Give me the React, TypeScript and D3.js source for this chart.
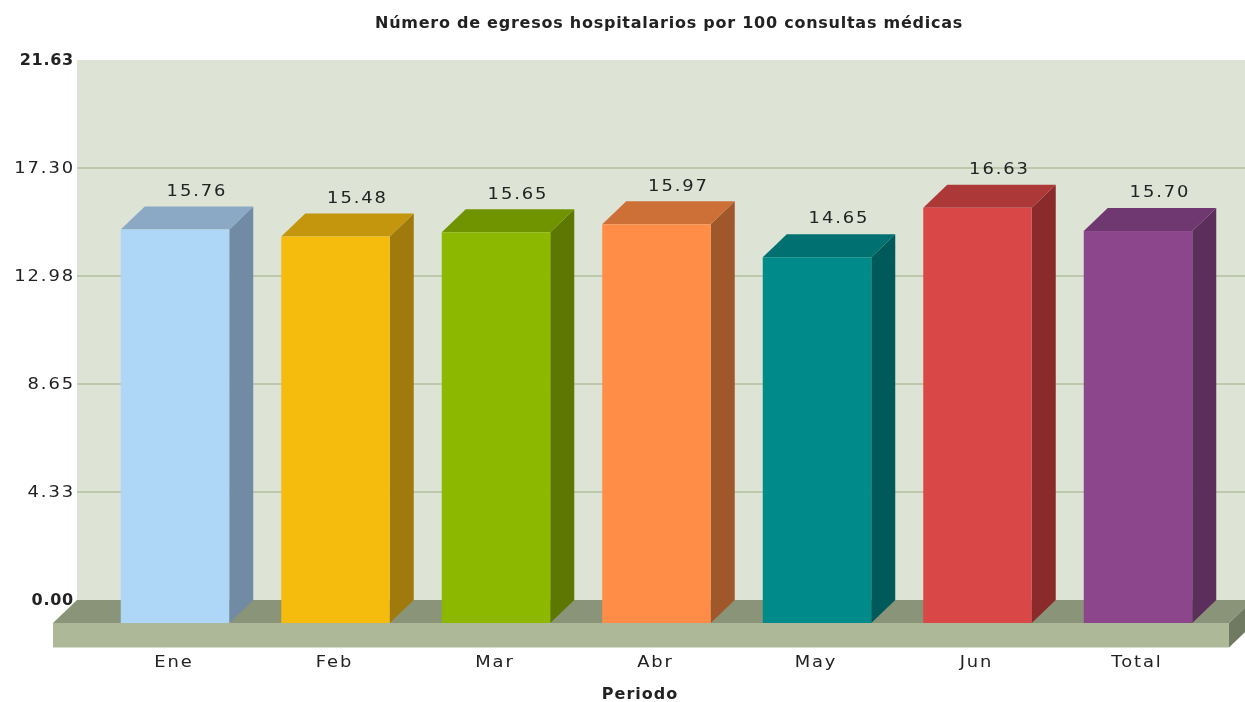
import React from "react";
import * as d3 from "d3";

const categories = ["Ene", "Feb", "Mar", "Abr", "May", "Jun", "Total"];
const values = [15.76, 15.48, 15.65, 15.97, 14.65, 16.63, 15.7];
const yTicks = [0, 4.33, 8.65, 12.98, 17.3, 21.63];
const frontColors = ["#aed6f7", "#f6bc0e", "#8cb900", "#ff8d47", "#008b8b", "#d94646", "#8c468c"];
const topColors = ["#8ba9c4", "#c4960a", "#709400", "#cc7038", "#006f6f", "#ad3838", "#703870"];
const sideColors = ["#6f8ba3", "#a07a09", "#5b7800", "#a0582c", "#005a5a", "#8a2c2c", "#5b2d5b"];

const W = 1245, H = 702;
const DX = 24, DY = 23;
const backLeft = 77, backTop = 60, backBottom = 600;
const floorLeft = 53, floorRight = 1229, floorFront = 623, floorThick = 24.5;
const font = "'DejaVu Sans', Verdana, sans-serif";
const textColor = "#222";

// Regular labels in the reference are slightly stretched horizontally.
function Wide({ x, y, anchor = "middle", children }: { x: number; y: number; anchor?: string; children: React.ReactNode }) {
  return (
    <text transform={`translate(${x},${y}) scale(1.12,1)`} textAnchor={anchor} dominantBaseline="middle" letterSpacing={1.7}>
      {children}
    </text>
  );
}

export default function App() {
  const y = d3.scaleLinear().domain([0, 21.63]).range([backBottom, backTop]);
  const x = d3.scaleBand<string>().domain(categories).range([94.75, 1218.25]).paddingInner(0.324).paddingOuter(0.162);
  const bw = x.bandwidth();
  return (
    <svg width={W} height={H} viewBox={`0 0 ${W} ${H}`} style={{ position: "absolute", left: 0, top: 0, display: "block", background: "#fff" }}>
      <defs>
        <filter id="soft" x="-5%" y="-5%" width="110%" height="110%">
          <feGaussianBlur stdDeviation="0.35" />
        </filter>
      </defs>
      <g filter="url(#soft)">
        <rect x={backLeft} y={backTop} width={W - backLeft} height={backBottom - backTop} fill="#dde3d5" />
        {yTicks.slice(1, -1).map((t) => (
          <line key={t} x1={backLeft} x2={W} y1={y(t)} y2={y(t)} stroke="#b3bf9f" strokeWidth={1.5} />
        ))}
        <polygon points={`${floorLeft},${floorFront} ${floorLeft + DX},${backBottom} ${floorRight + DX},${backBottom} ${floorRight},${floorFront}`} fill="#8a9478" />
        <rect x={floorLeft} y={floorFront} width={floorRight - floorLeft} height={floorThick} fill="#adb899" />
        <polygon points={`${floorRight},${floorFront} ${floorRight + DX},${backBottom} ${floorRight + DX},${backBottom + floorThick} ${floorRight},${floorFront + floorThick}`} fill="#6f7a62" />
        {categories.map((c, i) => {
          const x0 = x(c)!;
          const x1 = x0 + bw;
          const top = y(values[i]) + DY;
          return (
            <g key={c}>
              <polygon points={`${x1},${top} ${x1 + DX},${top - DY} ${x1 + DX},${floorFront - DY} ${x1},${floorFront}`} fill={sideColors[i]} />
              <polygon points={`${x0},${top} ${x0 + DX},${top - DY} ${x1 + DX},${top - DY} ${x1},${top}`} fill={topColors[i]} />
              <rect x={x0} y={top} width={bw} height={floorFront - top} fill={frontColors[i]} />
            </g>
          );
        })}
        <g fontFamily={font} fill={textColor} fontSize={16}>
          <text x={669} y={23} fontWeight="bold" letterSpacing={0.75} textAnchor="middle" dominantBaseline="middle">
            Número de egresos hospitalarios por 100 consultas médicas
          </text>
          {yTicks.map((t, i) => {
            const strong = i === 0 || i === yTicks.length - 1;
            return strong ? (
              <text key={t} x={74} y={y(t) + 0.5} fontWeight="bold" letterSpacing={0.75} textAnchor="end" dominantBaseline="middle">
                {t.toFixed(2)}
              </text>
            ) : (
              <Wide key={t} x={75} y={y(t) + 0.5} anchor="end">
                {t.toFixed(2)}
              </Wide>
            );
          })}
          {categories.map((c) => (
            <Wide key={c} x={x(c)! + bw / 2 - 1} y={662}>
              {c}
            </Wide>
          ))}
          {categories.map((c, i) => (
            <Wide key={c + "v"} x={x(c)! + bw / 2 + 22} y={y(values[i]) - 15.5}>
              {values[i].toFixed(2)}
            </Wide>
          ))}
          <text x={640} y={694} fontWeight="bold" letterSpacing={1} textAnchor="middle" dominantBaseline="middle">
            Periodo
          </text>
        </g>
      </g>
    </svg>
  );
}
